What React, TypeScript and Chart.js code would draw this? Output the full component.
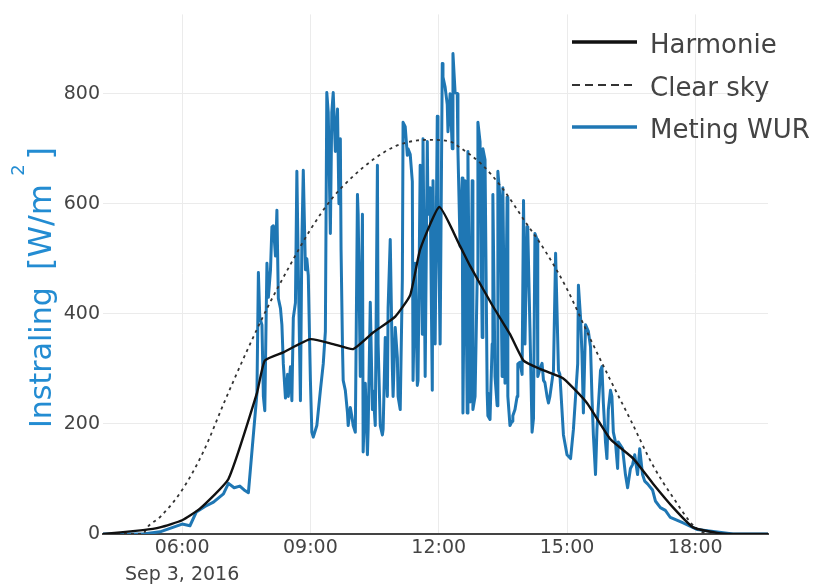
import React, { useEffect, useRef } from 'react';
import { Chart, registerables } from 'chart.js';

Chart.register(...registerables);

// ---- data (time in minutes after midnight, Sep 3, 2016; values in W/m²) ----
const xTickMinutes = [360, 540, 720, 900, 1080];
const yTickValues = [0, 200, 400, 600, 800];

const seriesLabels = ['Harmonie', 'Clear sky', 'Meting WUR'];

const harmonieMinutes = [249, 305, 329, 360, 385, 425, 465, 476, 502, 540, 572, 600, 628, 659, 680, 694, 721, 750, 764, 795, 820, 839, 862, 890, 898, 928, 961, 993, 1021, 1049, 1077, 1111, 1133, 1182];
const harmonieValues = [0, 7, 12, 25, 46, 100, 256, 315, 330, 354, 345, 336, 366, 395, 434, 517, 594, 523, 487, 416, 363, 315, 300, 286, 279, 238, 172, 137, 91, 48, 12, 2, 0, 0];

const clearMinutes = [249, 305, 311, 330, 360, 390, 420, 450, 480, 510, 540, 570, 600, 630, 660, 690, 708, 736, 750, 780, 810, 840, 870, 900, 930, 960, 990, 1020, 1050, 1080, 1101, 1182];
const clearValues = [0, 0, 12, 32, 80, 150, 242, 330, 412, 485, 553, 609, 650, 682, 705, 715, 716, 713, 702, 672, 627, 570, 513, 445, 362, 282, 205, 126, 64, 12, 0, 0];

const wurMinutes = [
  249, 305, 329, 360, 371, 380, 392, 404, 418, 425, 433, 441, 447, 453, 465, 467, 469, 472, 474, 476,
  479, 481, 484, 486, 488, 491, 493, 495, 498, 500, 502, 505, 508, 509, 512, 514, 516, 519, 521, 523,
  526, 528, 530, 533, 535, 537, 540, 542, 544, 549, 554, 558, 561, 563, 565, 568, 570, 572, 575, 578,
  580, 582, 583, 585, 586, 589, 592, 593, 596, 598, 600, 603, 606, 607, 610, 613, 614, 617, 620, 621,
  624, 627, 628, 631, 634, 635, 638, 641, 642, 645, 648, 649, 652, 655, 656, 659, 662, 663, 666, 669,
  670, 673, 676, 677, 680, 683, 684, 687, 690, 691, 694, 697, 698, 701, 704, 705, 708, 711, 712, 715,
  718, 719, 722, 725, 726, 729, 732, 733, 736, 739, 740, 743, 746, 747, 750, 753, 754, 757, 760, 761,
  764, 767, 768, 771, 774, 775, 778, 781, 782, 785, 788, 789, 792, 795, 796, 799, 802, 803, 806, 809,
  810, 813, 816, 817, 820, 823, 824, 827, 830, 831, 834, 837, 839, 841, 844, 845, 848, 851, 853, 855,
  858, 859, 862, 865, 867, 869, 872, 874, 876, 881, 884, 886, 888, 890, 895, 900, 905, 909, 915, 916,
  919, 921, 923, 926, 930, 933, 935, 937, 940, 942, 947, 949, 951, 954, 956, 958, 961, 963, 965, 968,
  971, 972, 978, 982, 985, 989, 992, 995, 999, 1002, 1006, 1009, 1013, 1020, 1024, 1031, 1038, 1045, 1063, 1083,
  1133, 1182,
];
const wurValues = [
  0, 0, 4, 18, 15, 40, 50, 58, 73, 92, 84, 87, 80, 75, 256, 475, 393, 380, 250, 224,
  492, 430, 480, 558, 560, 505, 588, 428, 410, 380, 309, 247, 290, 250, 304, 242, 393, 420, 659, 480,
  242, 530, 661, 480, 500, 470, 279, 185, 176, 197, 261, 309, 368, 802, 766, 546, 766, 802, 695, 772,
  600, 718, 517, 340, 279, 261, 220, 197, 230, 215, 197, 185, 617, 581, 286, 581, 149, 274, 144, 190,
  421, 226, 260, 197, 670, 345, 197, 180, 190, 357, 250, 411, 535, 300, 250, 375, 320, 250, 226, 464,
  748, 740, 688, 700, 690, 640, 279, 492, 270, 279, 670, 363, 718, 286, 713, 581, 629, 261, 642, 345,
  759, 612, 345, 855, 830, 812, 780, 731, 800, 700, 873, 802, 800, 695, 523, 647, 220, 642, 220, 695,
  240, 642, 226, 250, 464, 748, 713, 357, 700, 680, 256, 215, 208, 345, 617, 286, 233, 659, 612, 286,
  629, 274, 612, 250, 197, 205, 215, 226, 250, 309, 312, 290, 606, 345, 558, 550, 375, 185, 210, 546,
  535, 286, 300, 310, 279, 275, 250, 238, 250, 297, 510, 404, 297, 290, 180, 144, 137, 190, 309, 452,
  393, 327, 220, 380, 368, 340, 250, 180, 108, 190, 297, 304, 238, 167, 137, 226, 261, 250, 185, 167,
  119, 167, 155, 108, 84, 119, 126, 144, 108, 155, 108, 96, 91, 80, 60, 48, 43, 30, 20, 8,
  0, 0,
];

const toPoints = (xs: number[], ys: number[]) => xs.map((x, i) => ({ x, y: ys[i] }));
const pad2 = (n: number) => (n < 10 ? '0' + n : '' + n);
const fmtTime = (m: number) => pad2(Math.floor(m / 60)) + ':' + pad2(Math.round(m % 60));

const FONT = 'DejaVu Sans';

const titlePlugin = {
  id: 'yTitle',
  afterDraw(chart: any) {
    const ctx = chart.ctx as CanvasRenderingContext2D;
    ctx.save();
    ctx.fillStyle = '#238cd2';
    ctx.textBaseline = 'alphabetic';
    ctx.translate(51, 0);
    ctx.rotate(-Math.PI / 2);
    // in rotated space, x = -screenY
    ctx.font = `30px "${FONT}"`;
    ctx.textAlign = 'left';
    ctx.fillText('Instraling', -428, 0);
    ctx.font = `32px "${FONT}"`;
    ctx.textAlign = 'right';
    ctx.fillText(']', -147, 0);
    ctx.fillText('[W/m', -184, 0);
    ctx.font = `18px "${FONT}"`;
    ctx.textAlign = 'center';
    ctx.fillText('2', -170, -27);
    ctx.restore();
  },
};

const legendPlugin = {
  id: 'customLegend',
  afterDraw(chart: any) {
    const ctx = chart.ctx as CanvasRenderingContext2D;
    const rows = [42, 85, 127];
    const widths = [3.5, 2.2, 3.5];
    const dashes = [[], [8, 5], []];
    chart.data.datasets.forEach((ds: any, i: number) => {
      const y = rows[i];
      ctx.save();
      ctx.strokeStyle = ds.borderColor;
      ctx.lineWidth = widths[i];
      ctx.setLineDash(dashes[i]);
      ctx.beginPath();
      ctx.moveTo(572, y);
      ctx.lineTo(637, y);
      ctx.stroke();
      ctx.setLineDash([]);
      ctx.fillStyle = '#444';
      ctx.font = `26px "${FONT}"`;
      ctx.textBaseline = 'alphabetic';
      ctx.textAlign = 'left';
      ctx.fillText(ds.label, 650, y + 11);
      ctx.restore();
    });
  },
};

export default function App() {
  const ref = useRef<HTMLCanvasElement>(null);

  useEffect(() => {
    document.body.style.margin = '0';
    const canvas = ref.current;
    if (!canvas) return;
    const chart = new Chart(canvas, {
      type: 'line',
      data: {
        datasets: [
          {
            label: seriesLabels[0],
            data: toPoints(harmonieMinutes, harmonieValues),
            borderColor: '#111111',
            borderWidth: 2.4,
            pointRadius: 0,
            tension: 0.15,
            fill: false,
          },
          {
            label: seriesLabels[1],
            data: toPoints(clearMinutes, clearValues),
            borderColor: '#333333',
            borderWidth: 1.8,
            borderDash: [3, 4],
            pointRadius: 0,
            cubicInterpolationMode: 'monotone',
            fill: false,
          },
          {
            label: seriesLabels[2],
            data: toPoints(wurMinutes, wurValues),
            borderColor: '#1f77b4',
            borderWidth: 3,
            borderJoinStyle: 'round',
            pointRadius: 0,
            tension: 0,
            fill: false,
          },
        ],
      },
      options: {
        responsive: false,
        animation: false,
        devicePixelRatio: 1,
        layout: { padding: { left: 0, right: 49, top: 3, bottom: 0 } },
        plugins: {
          legend: { display: false },
          tooltip: { enabled: false },
        },
        scales: {
          x: {
            type: 'linear',
            min: 249,
            max: 1182,
            afterBuildTicks: (s: any) => {
              s.ticks = xTickMinutes.map((v) => ({ value: v }));
            },
            afterFit: (s: any) => {
              s.height = 52;
            },
            ticks: {
              autoSkip: false,
              maxRotation: 0,
              padding: 1,
              color: '#444',
              font: { family: FONT, size: 19, lineHeight: 1.42 },
              callback: (v: any) => {
                const n = Number(v);
                return n === xTickMinutes[0] ? [fmtTime(n), 'Sep 3, 2016'] : fmtTime(n);
              },
            },
            grid: { color: '#ebebeb', lineWidth: 1, drawTicks: false },
            border: { display: true, color: '#444', width: 2 },
          },
          y: {
            type: 'linear',
            min: 0,
            max: 944,
            afterBuildTicks: (s: any) => {
              s.ticks = yTickValues.map((v) => ({ value: v }));
            },
            afterFit: (s: any) => {
              s.width = 103;
            },
            ticks: {
              padding: 3,
              color: '#444',
              font: { family: FONT, size: 19 },
            },
            grid: { color: '#ebebeb', lineWidth: 1, drawTicks: false },
            border: { display: false },
          },
        },
      },
      plugins: [titlePlugin, legendPlugin],
    });
    return () => chart.destroy();
  }, []);

  return (
    <div style={{ width: 817, height: 586, background: '#fff' }}>
      <canvas ref={ref} width={817} height={586} style={{ display: 'block' }} />
    </div>
  );
}
